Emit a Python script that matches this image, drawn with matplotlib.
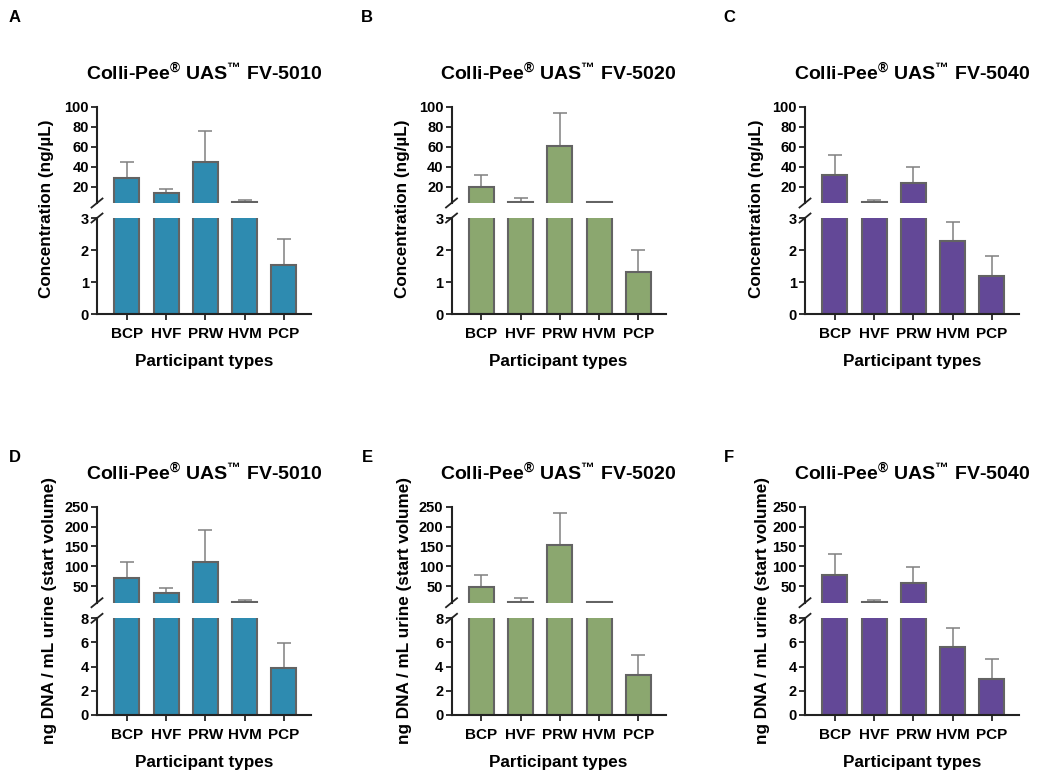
import matplotlib
matplotlib.use('Agg')
import matplotlib.pyplot as plt
import numpy as np

plt.rcParams['font.family'] = ['Liberation Sans', 'DejaVu Sans']
plt.rcParams['font.weight'] = 'bold'
plt.rcParams['mathtext.fontset'] = 'custom'
plt.rcParams['mathtext.rm'] = 'Liberation Sans:bold'
plt.rcParams['mathtext.bf'] = 'Liberation Sans:bold'
plt.rcParams['mathtext.it'] = 'Liberation Sans:bold'

categories = ['BCP', 'HVF', 'PRW', 'HVM', 'PCP']
devices = ['FV-5010', 'FV-5020', 'FV-5040']
panel_letters = ['A', 'B', 'C', 'D', 'E', 'F']
colors = ['#2E8BB0', '#8BA76F', '#634897']

# Concentration (ng/uL): mean and upper SD
conc_5010 = [28.5, 14.0, 44.5, 5.0, 1.55]
conc_5010_sd = [16.5, 4.0, 31.5, 1.6, 0.79]
conc_5020 = [20.0, 5.0, 61.0, 4.5, 1.32]
conc_5020_sd = [12.4, 4.0, 33.0, 0.6, 0.68]
conc_5040 = [32.4, 4.7, 24.0, 2.27, 1.18]
conc_5040_sd = [19.6, 2.0, 16.0, 0.60, 0.65]

# ng DNA / mL urine (start volume): mean and upper SD
yield_5010 = [71.0, 33.0, 110.0, 10.5, 3.86]
yield_5010_sd = [40.0, 13.0, 81.0, 3.5, 2.07]
yield_5020 = [48.0, 10.5, 152.5, 9.5, 3.30]
yield_5020_sd = [30.0, 9.5, 82.5, 0.8, 1.66]
yield_5040 = [77.7, 9.0, 58.4, 5.65, 2.98]
yield_5040_sd = [52.3, 6.0, 40.2, 1.52, 1.65]

conc_means = [conc_5010, conc_5020, conc_5040]
conc_sds = [conc_5010_sd, conc_5020_sd, conc_5040_sd]
yield_means = [yield_5010, yield_5020, yield_5040]
yield_sds = [yield_5010_sd, yield_5020_sd, yield_5040_sd]

row_specs = [
    dict(means=conc_means, sds=conc_sds, upper_lim=(4, 100), upper_ticks=[20, 40, 60, 80, 100],
         lower_lim=(0, 3), lower_ticks=[0, 1, 2, 3], ylabel='Concentration (ng/µL)'),
    dict(means=yield_means, sds=yield_sds, upper_lim=(8, 250), upper_ticks=[50, 100, 150, 200, 250],
         lower_lim=(0, 8), lower_ticks=[0, 2, 4, 6, 8], ylabel='ng DNA / mL urine (start volume)'),
]

W, H = 1042, 770
fig = plt.figure(figsize=(W / 100, H / 100), dpi=100)

col_x = [97, 451.5, 805]
ax_w = 214
row_geom = [  # (upper_top, upper_bottom, lower_top, lower_bottom) in px
    (106.7, 203.0, 218.0, 314.3),
    (506.7, 602.7, 618.3, 715.0),
]
title_y = [73, 473]
letter_y = [18, 458]
letter_x = [15, 367, 729]
ylabel_x = [[47, 403, 756], [50, 404, 762]]
ylabel_yc = [209, 611]

spine_col = '#222222'
edge_col = '#636363'
err_col = '#808080'

def fig_rect(x0, top, w, bottom):
    return [x0 / W, 1 - bottom / H, w / W, (bottom - top) / H]

x = np.arange(len(categories))
bar_w = 0.64
cap_hw = 0.18

for r, spec in enumerate(row_specs):
    ut, ub, lt, lb = row_geom[r]
    for c in range(3):
        means = np.array(spec['means'][c])
        sds = np.array(spec['sds'][c])
        tops = means + sds
        axu = fig.add_axes(fig_rect(col_x[c], ut, ax_w, ub))
        axl = fig.add_axes(fig_rect(col_x[c], lt, ax_w, lb))
        lo_u = spec['upper_lim'][0]
        hi_l = spec['lower_lim'][1]
        parts = (
            (axu, spec['upper_lim'], spec['upper_ticks'], means > lo_u, tops > lo_u),
            (axl, spec['lower_lim'], spec['lower_ticks'], np.ones(len(means), bool), means < hi_l),
        )
        for ax, lim, ticks, bar_mask, err_mask in parts:
            ax.bar(x[bar_mask], means[bar_mask], width=bar_w, color=colors[c],
                   edgecolor=edge_col, linewidth=1.5, zorder=2)
            ax.vlines(x[err_mask], means[err_mask], tops[err_mask],
                      color=err_col, linewidth=1.1, zorder=1)
            ax.hlines(tops[err_mask], x[err_mask] - cap_hw, x[err_mask] + cap_hw,
                      color=err_col, linewidth=1.1, zorder=1)
            ax.set_xlim(-0.76, 4.69)
            ax.set_ylim(*lim)
            ax.set_yticks(ticks)
            ax.set_yticklabels([str(t) for t in ticks], fontsize=10.5, fontweight='bold')
            ax.spines['top'].set_visible(False)
            ax.spines['right'].set_visible(False)
            for s in ('left', 'bottom'):
                ax.spines[s].set_color(spine_col)
                ax.spines[s].set_linewidth(1.5)
            ax.tick_params(axis='y', direction='out', length=4.3, width=1.3,
                           color=spine_col, pad=1.5)
            ax.patch.set_visible(False)
        axu.spines['bottom'].set_visible(False)
        axu.set_xticks([])
        axl.set_xticks(x)
        axl.set_xticklabels(categories, fontsize=11, fontweight='bold')
        axl.tick_params(axis='x', direction='out', length=4.3, width=1.3,
                        color=spine_col, pad=5)
        axl.set_xlabel('Participant types', fontsize=12.3, fontweight='bold', labelpad=9.5)

        # break marks
        dx = 5.5 / ax_w
        for ax, yend, hpx in ((axu, 0.0, ub - ut), (axl, 1.0, lb - lt)):
            dy = 4.5 / hpx
            ax.plot([-dx, dx], [yend - dy, yend + dy], transform=ax.transAxes,
                    color=spine_col, linewidth=1.3, clip_on=False, zorder=5)

        # title
        fig.text((col_x[c] + ax_w / 2) / W, 1 - title_y[r] / H,
                 r'Colli-Pee$^{\mathrm{®}}$ UAS$^{\mathrm{™}}$ ' + devices[c],
                 ha='center', va='center', fontsize=14, fontweight='bold')
        # panel letter
        fig.text(letter_x[c] / W, 1 - letter_y[r] / H, panel_letters[r * 3 + c],
                 ha='center', va='center', fontsize=12, fontweight='bold')
        # y label
        fig.text(ylabel_x[r][c] / W, 1 - ylabel_yc[r] / H, spec['ylabel'],
                 rotation=90, ha='center', va='center', fontsize=12.3, fontweight='bold')

fig.savefig('out.png', dpi=100, facecolor='white')
